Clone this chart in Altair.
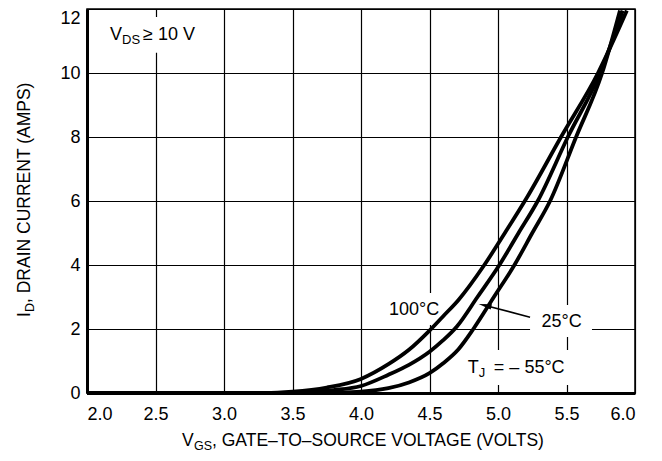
import altair as alt
import pandas as pd

FONT = "Liberation Sans, Arial, Helvetica, sans-serif"

# ---- data ----
vgs_100 = [2.0, 3.3, 3.5, 3.75, 4.0, 4.2, 4.35, 4.5, 4.6, 4.71, 4.9, 5.05, 5.21, 5.46, 5.73, 5.94]
id_100 = [0.0, 0.0, 0.04, 0.17, 0.44, 0.9, 1.35, 1.95, 2.4, 2.9, 4.0, 5.0, 6.1, 8.0, 10.0, 11.95]

vgs_25 = [2.0, 3.45, 3.6, 3.8, 4.0, 4.2, 4.35, 4.5, 4.6, 4.7, 4.85, 5.01, 5.15, 5.29, 5.51, 5.745, 5.91]
id_25 = [0.0, 0.0, 0.02, 0.09, 0.22, 0.57, 0.88, 1.29, 1.65, 2.08, 3.0, 4.0, 5.0, 6.0, 8.0, 10.0, 11.95]

vgs_m55 = [2.0, 3.6, 3.8, 4.0, 4.2, 4.35, 4.5, 4.6, 4.71, 4.82, 4.97, 5.12, 5.25, 5.38, 5.57, 5.76, 5.89]
id_m55 = [0.0, 0.0, 0.01, 0.04, 0.15, 0.33, 0.62, 0.93, 1.36, 2.0, 3.0, 4.0, 5.0, 6.0, 8.0, 10.0, 11.95]

x_ticks = [2.0, 2.5, 3.0, 3.5, 4.0, 4.5, 5.0, 5.5, 6.0]
y_ticks = [0, 2, 4, 6, 8, 10, 12]

rows = []
for name, xs, ys in [("100", vgs_100, id_100), ("25", vgs_25, id_25), ("-55", vgs_m55, id_m55)]:
    for i, (a, b) in enumerate(zip(xs, ys)):
        rows.append({"series": name, "vgs": a, "id": b, "order": i})
curves = pd.DataFrame(rows)

X = alt.X("vgs:Q", scale=alt.Scale(domain=[2.0, 6.0], nice=False, zero=False),
          axis=alt.Axis(values=x_ticks, format=".1f", title=None, ticks=False,
                        labelFont=FONT, labelFontSize=18, labelColor="black",
                        labelPadding=12, domainColor="black", domainWidth=3,
                        gridColor="black", gridWidth=1.2, gridOpacity=1))
Y = alt.Y("id:Q", scale=alt.Scale(domain=[0, 12], nice=False),
          axis=alt.Axis(values=y_ticks, title=None, ticks=False,
                        labelFont=FONT, labelFontSize=18, labelColor="black",
                        labelPadding=7, domainColor="black", domainWidth=3,
                        gridColor="black", gridWidth=1.2, gridOpacity=1,
                        labelBaseline={"condition": {"test": "datum.value == 12", "value": "top"},
                                       "value": "middle"}))

lines = alt.Chart(curves).mark_line(color="black", strokeWidth=3.8, interpolate="monotone").encode(
    x=X, y=Y, detail="series:N", order="order:Q")

# white boxes behind labels (gridline gaps)
box_x = [2.12, 4.197, 5.234, 4.745]
box_x2 = [2.85, 4.577, 5.686, 5.547]
box_y = [10.63, 2.125, 1.75, 0.25]
box_y2 = [11.75, 3.125, 2.75, 1.344]
boxes = alt.Chart(pd.DataFrame({"x": box_x, "x2": box_x2, "y": box_y, "y2": box_y2})).mark_rect(
    color="white").encode(x="x:Q", x2="x2", y="y:Q", y2="y2")

# arrow to the 25 C curve
arrow_v = [5.234, 4.90]
arrow_i = [2.37, 2.745]
arrow = alt.Chart(pd.DataFrame({"vgs": arrow_v, "id": arrow_i})).mark_line(
    color="black", strokeWidth=1.5).encode(x="vgs:Q", y="id:Q")
head = alt.Chart(pd.DataFrame({"vgs": [4.905], "id": [2.737]})).mark_point(
    shape="M -1 0 L 1 -0.42 L 1 0.42 Z", filled=True, color="black", opacity=1,
    size=170, angle=13.5).encode(x="vgs:Q", y="id:Q")


def txt(t, v, i, size=18, dx=0, dy=0, align="left", baseline="alphabetic"):
    return alt.Chart(pd.DataFrame({"vgs": [v], "id": [i], "t": [t]})).mark_text(
        font=FONT, fontSize=size, color="black", align=align, baseline=baseline,
        dx=dx, dy=dy).encode(x="vgs:Q", y="id:Q", text="t:N")


def ptxt(t, px, py, size=17.5, angle=0):
    return alt.Chart(pd.DataFrame({"px": [px], "py": [py], "t": [t]})).mark_text(
        font=FONT, fontSize=size, color="black", align="left", baseline="alphabetic",
        angle=angle).encode(x=alt.X("px:Q", scale=None), y=alt.Y("py:Q", scale=None), text="t:N")


labels = [
    txt("100°C", 4.387, 2.59, align="center", baseline="middle"),
    txt("25°C", 5.465, 2.23, align="center", baseline="middle"),
    txt("T", 4.78, 0.615),
    txt("J", 4.78, 0.615, size=13, dx=11, dy=4),
    txt("=  – 55°C", 4.78, 0.615, dx=26),
    txt("V", 2.168, 11.03),
    txt("DS", 2.168, 11.03, size=13, dx=12, dy=4),
    txt("≥ 10 V", 2.168, 11.03, dx=33),
    # x-axis title (pixel positions relative to plot area)
    ptxt("V", 95, 437),
    ptxt("GS", 107, 441, size=12.5),
    ptxt(", GATE–TO–SOURCE VOLTAGE (VOLTS)", 125, 437),
    # y-axis title
    ptxt("I", -57, 308, angle=270),
    ptxt("D", -53, 303, size=12.5, angle=270),
    ptxt(", DRAIN CURRENT (AMPS)", -57, 294, angle=270),
]

chart = alt.layer(boxes, lines, arrow, head, *labels).properties(
    width=548, height=384,
    autosize=alt.AutoSizeParams(type="none"),
    padding={"left": 79, "top": 1, "right": 19, "bottom": 60},
    background="white",
).configure_view(stroke="black", strokeWidth=1.5)

chart.save("out.html", embed_options={"renderer": "svg", "actions": False})
